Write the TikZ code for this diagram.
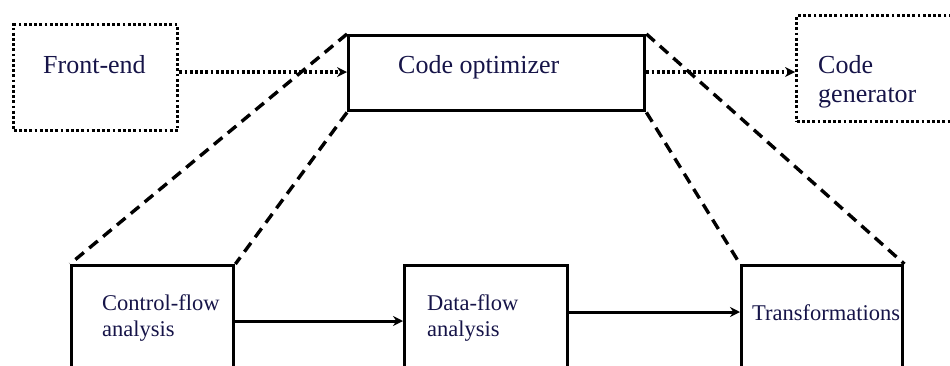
\documentclass[tikz,border=0pt]{standalone}
\usepackage{fontspec}
\setmainfont{Liberation Serif}
\newfontfamily\tnrfont{Liberation Serif}
\usetikzlibrary{arrows.meta}
\definecolor{txtc}{RGB}{22,20,72}
\begin{document}
\begin{tikzpicture}[x=1pt,y=-1pt,
  dotbox/.style={draw, line width=3.4pt, dash pattern=on 2.8pt off 2.4pt, inner sep=0pt, anchor=north west},
  solidbox/.style={draw, line width=3.4pt, inner sep=0pt, anchor=north west},
  dotarrow/.style={line width=3.4pt, dash pattern=on 2.8pt off 2.4pt, -{Stealth[length=10pt,width=10pt,line width=0pt]}},
  solarrow/.style={line width=3pt, -{Stealth[length=10pt,width=10pt]}},
  dashline/.style={line width=3.4pt, dash pattern=on 11pt off 7pt},
  bigtxt/.style={font=\tnrfont\fontsize{26}{30}\selectfont, text=txtc, inner sep=0pt, anchor=base west},
  smalltxt/.style={font=\tnrfont\fontsize{22.5}{26}\selectfont, text=txtc, inner sep=0pt, anchor=base west}]
\useasboundingbox (0,0) rectangle (950,365);
\clip (0,0) rectangle (950,365);
% top boxes
\node[dotbox, minimum width=164pt, minimum height=106pt] (fe) at (12,23) {};
\node[solidbox, minimum width=296pt, minimum height=75pt] (opt) at (347,34) {};
\node[dotbox, minimum width=170pt, minimum height=106pt] (gen) at (795,14) {};
\node[bigtxt] (tfe) at (43,73) {Front-end};
\node[bigtxt] (topt) at (398,73) {Code optimizer};
\node[bigtxt] (tgen1) at (818,73) {Code};
\node[bigtxt] (tgen2) at (818,102) {generator};
% bottom boxes
\node[solidbox, minimum width=162pt, minimum height=130pt] (cf) at (70,264) {};
\node[solidbox, minimum width=163pt, minimum height=130pt] (df) at (403,264) {};
\node[solidbox, minimum width=161pt, minimum height=130pt] (tr) at (740,264) {};
\node[smalltxt] (tcf1) at (102,310) {Control-flow};
\node[smalltxt] (tcf2) at (102,336) {analysis};
\node[smalltxt] (tdf1) at (427,310) {Data-flow};
\node[smalltxt] (tdf2) at (427,336) {analysis};
\node[smalltxt] (ttr) at (752,320) {Transformations};
% dotted arrows
\draw[dotarrow] (fe.east |- 0,72) -- (opt.west |- 0,72);
\draw[dotarrow] (opt.east |- 0,72) -- (gen.west |- 0,72);
% dashed zoom lines
\draw[dashline] (opt.north west) -- (cf.north west);
\draw[dashline] (opt.south west) -- (cf.north east);
\draw[dashline] (opt.north east) -- (tr.north east);
\draw[dashline] (opt.south east) -- (tr.north west);
% solid arrows
\draw[solarrow] (cf.east |- 0,321) -- (df.west |- 0,321);
\draw[solarrow] (df.east |- 0,312) -- (tr.west |- 0,312);
\end{tikzpicture}
\end{document}
